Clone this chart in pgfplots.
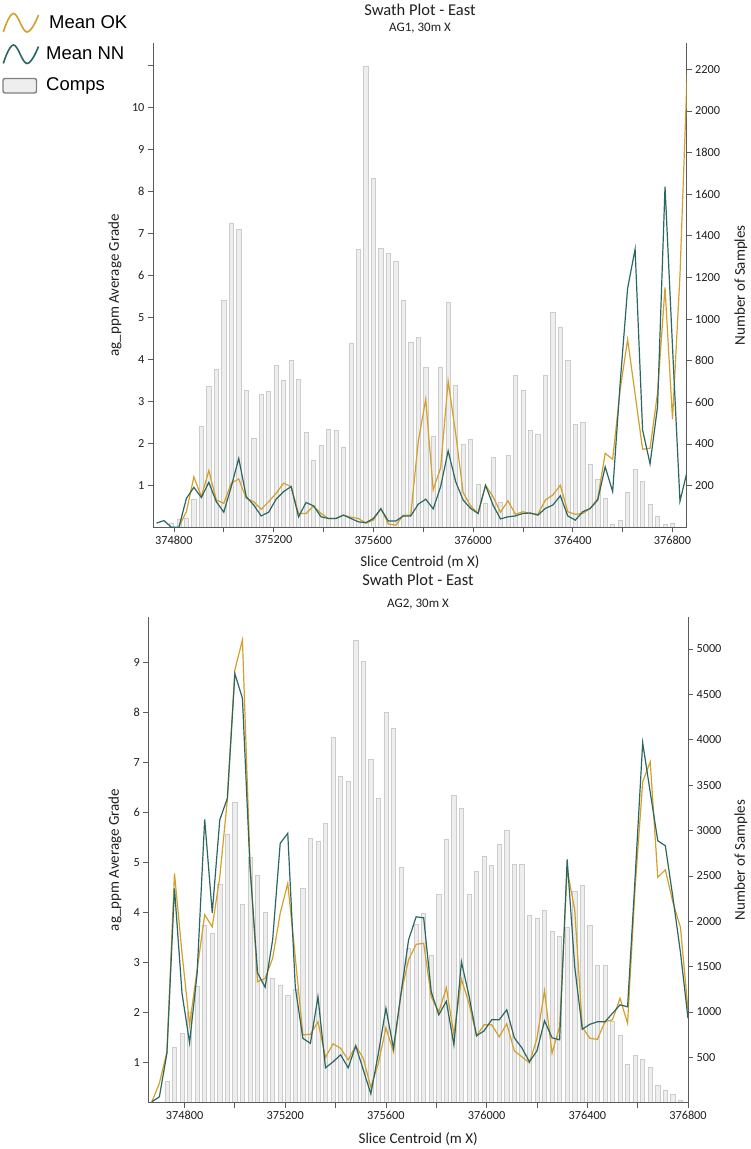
\documentclass[border=0pt]{standalone}
\usepackage{fontspec}
\setmainfont{Carlito}
\newfontfamily\legfont{Liberation Sans}
\usepackage{pgfplots}
\pgfplotsset{compat=1.18}
\usepackage{pgfplotstable}

\definecolor{okc}{HTML}{D4A02A}
\definecolor{nnc}{HTML}{2B6663}
\definecolor{axc}{HTML}{5A5A5A}
\definecolor{barfill}{HTML}{EEEEEE}
\definecolor{barline}{HTML}{CCCCCC}

\pgfplotstableread{
X comps ok nn
374730 0 nan 0.10
374760 0 nan 0.16
374790 20 nan 0.00
374820 40 0.02 0.00
374850 45 0.37 0.69
374880 133 1.20 0.95
374910 486 0.73 0.71
374940 678 1.35 1.07
374970 758 0.65 0.61
375000 1091 0.57 0.36
375030 1460 1.05 0.97
375060 1431 1.15 1.64
375090 659 0.69 0.73
375120 429 0.61 0.53
375150 638 0.43 0.27
375180 654 0.61 0.36
375210 779 0.81 0.67
375240 707 1.05 0.85
375270 803 0.97 0.97
375300 710 0.33 0.25
375330 455 0.33 0.59
375360 322 0.51 0.51
375390 394 0.33 0.25
375420 471 0.21 0.21
375450 466 0.21 0.21
375480 385 0.29 0.29
375510 883 0.24 0.21
375540 1335 0.21 0.13
375570 2216 0.10 0.11
375600 1675 0.17 0.21
375630 1338 0.45 0.44
375660 1316 0.08 0.15
375690 1277 0.05 0.15
375720 1091 0.29 0.27
375750 891 0.29 0.27
375780 912 2.04 0.55
375810 768 3.05 0.67
375840 437 0.89 0.44
375870 768 1.42 0.97
375900 1083 3.48 1.82
375930 683 2.24 1.09
375960 397 0.83 0.65
375990 421 0.51 0.45
376020 208 0.33 0.33
376050 114 1.00 1.00
376080 335 0.73 0.53
376110 119 0.36 0.20
376140 346 0.63 0.25
376170 731 0.31 0.27
376200 659 0.37 0.33
376230 466 0.33 0.34
376260 447 0.31 0.29
376290 731 0.65 0.45
376320 1035 0.77 0.53
376350 962 1.00 0.75
376380 801 0.37 0.27
376410 494 0.31 0.17
376440 505 0.33 0.37
376470 301 0.45 0.45
376500 230 0.68 0.65
376530 140 1.76 1.44
376560 13 1.62 0.85
376590 32 3.27 3.43
376620 170 4.47 5.69
376650 277 3.17 6.62
376680 220 1.86 2.32
376710 110 1.88 1.51
376740 53 3.20 2.87
376770 13 5.71 8.11
376800 18 2.57 4.30
376830 0 6.00 0.62
376860 0 11.00 1.36
}\swathA

\pgfplotstableread{
X comps ok nn
374670 0 0.21 0.21
374700 0 0.58 0.31
374730 236 1.21 1.18
374760 614 4.78 4.48
374790 768 3.18 2.38
374820 1000 1.75 1.39
374850 1282 2.85 2.78
374880 1961 3.95 5.86
374910 1870 3.71 3.99
374940 2402 4.71 5.85
374970 2953 6.25 6.28
375000 3313 8.85 8.77
375030 2182 9.45 8.28
375060 2707 5.00 4.90
375090 2512 2.61 2.79
375120 2101 2.68 2.50
375150 1367 3.08 3.45
375180 1290 3.98 5.38
375210 1180 4.58 5.58
375240 1246 3.10 2.50
375270 2365 1.55 1.48
375300 2909 1.56 1.38
375330 2883 1.81 2.31
375360 3081 1.10 0.89
375390 4032 1.37 1.01
375420 3602 1.28 1.15
375450 3547 1.05 0.89
375480 5100 1.33 1.33
375510 4865 1.08 0.85
375540 3786 0.50 0.37
375570 3353 0.98 1.18
375600 4304 1.69 2.08
375630 4127 1.21 1.28
375660 2597 2.38 2.38
375690 1700 3.05 3.45
375720 1962 3.36 3.91
375750 2090 3.38 3.89
375780 1620 2.31 2.41
375810 2292 2.01 1.95
375840 2905 2.49 2.22
375870 3386 1.55 1.35
375900 3246 2.66 3.01
375930 2299 2.18 2.33
375960 2553 1.53 1.53
375990 2721 1.75 1.63
376020 2622 1.75 1.85
376050 2850 1.51 1.85
376080 2997 1.77 2.05
376110 2633 1.23 1.49
376140 2633 1.11 1.29
376170 2071 0.99 1.01
376200 2035 1.48 1.23
376230 2126 2.43 1.83
376260 1895 1.18 1.49
376290 1840 1.71 1.45
376320 1936 4.85 5.06
376350 2328 4.05 2.91
376380 2394 1.71 1.66
376410 1954 1.48 1.76
376440 1510 1.46 1.81
376470 1510 1.81 1.81
376500 897 1.85 1.98
376530 743 2.28 2.15
376560 427 1.78 2.11
376590 519 4.50 4.70
376620 482 6.61 7.39
376650 390 7.01 6.40
376680 192 4.70 5.43
376710 133 4.85 5.33
376740 89 4.20 4.30
376770 27 3.70 3.20
376800 0 2.05 1.88
}\swathB

\newcommand{\labfont}{\fontsize{15}{18}\selectfont}

\pgfplotsset{
  swathbase/.style={
    scale only axis,
    anchor=south west,
    tick align=outside,
    major tick length=5pt,
    minor tick length=5pt,
    every tick/.style={axc, line width=0.8pt},
    axis line style={axc, line width=0.9pt},
    ticklabel style={font=\fontsize{12.3}{14}\selectfont, text=black!88},
    scaled x ticks=false,
    scaled y ticks=false,
    /pgf/number format/assume math mode=true,
    /pgf/number format/fixed,
    /pgf/number format/1000 sep={},
    unbounded coords=jump,
  },
  barsty/.style={ybar, bar width=4.2pt, fill=barfill, draw=barline, line width=0.6pt},
  oksty/.style={color=okc, line width=1.2pt, mark=none},
  nnsty/.style={color=nnc, line width=1.2pt, mark=none},
}

\begin{document}
\begin{tikzpicture}
\path[use as bounding box] (0pt,0pt) rectangle (750pt,-1149pt);

% ---------------- Panel 1 : samples ----------------
\begin{axis}[swathbase,
  at={(153pt,-527.3pt)}, width=533.7pt, height=484pt,
  xmin=374716, xmax=376857, ymin=0, ymax=2325,
  axis x line=none, axis y line*=right,
  ytick={200,400,600,800,1000,1200,1400,1600,1800,2000,2200},
  ylabel={Number of Samples},
  every axis y label/.style={at={(axis description cs:1.1017,0.5)}, rotate=90, anchor=center, font=\labfont, text=black!88},
]
\addplot[barsty] table[x=X, y=comps]{\swathA};
\end{axis}

% ---------------- Panel 1 : grades ----------------
\begin{axis}[swathbase,
  at={(153pt,-527.3pt)}, width=533.7pt, height=484pt,
  xmin=374716, xmax=376857, ymin=0, ymax=11.52,
  axis x line*=bottom, axis y line*=left,
  xtick={374800,375200,375600,376000,376400,376800},
  minor xtick={375000,375400,375800,376200,376600},
  ytick={1,2,3,4,5,6,7,8,9,10,11},
  yticklabels={1,2,3,4,5,6,7,8,9,10,{}},
  xlabel={Slice Centroid (m X)},
  ylabel={ag\_ppm Average Grade},
  every axis x label/.style={at={(axis description cs:0.5,-0.0717)}, anchor=center, font=\labfont, text=black!88},
  every axis y label/.style={at={(axis description cs:-0.0712,0.5)}, rotate=90, anchor=center, font=\labfont, text=black!88},
]
\addplot[oksty] table[x=X, y=ok]{\swathA};
\addplot[nnsty] table[x=X, y=nn]{\swathA};
\end{axis}

% ---------------- Panel 2 : samples ----------------
\begin{axis}[swathbase,
  at={(148.3pt,-1102.8pt)}, width=539.7pt, height=485.5pt,
  xmin=374656, xmax=376800, ymin=0, ymax=5349,
  axis x line=none, axis y line*=right,
  ytick={500,1000,1500,2000,2500,3000,3500,4000,4500,5000},
  ylabel={Number of Samples},
  every axis y label/.style={at={(axis description cs:1.098,0.5)}, rotate=90, anchor=center, font=\labfont, text=black!88},
]
\addplot[barsty] table[x=X, y=comps]{\swathB};
\end{axis}

% ---------------- Panel 2 : grades ----------------
\begin{axis}[swathbase,
  at={(148.3pt,-1102.8pt)}, width=539.7pt, height=485.5pt,
  xmin=374656, xmax=376800, ymin=0.19, ymax=9.9,
  axis x line*=bottom, axis y line*=left,
  xtick={374800,375200,375600,376000,376400,376800},
  minor xtick={375000,375400,375800,376200,376600},
  ytick={1,2,3,4,5,6,7,8,9},
  xlabel={Slice Centroid (m X)},
  ylabel={ag\_ppm Average Grade},
  every axis x label/.style={at={(axis description cs:0.5,-0.0748)}, anchor=center, font=\labfont, text=black!88},
  every axis y label/.style={at={(axis description cs:-0.0617,0.5)}, rotate=90, anchor=center, font=\labfont, text=black!88},
]
\addplot[oksty] table[x=X, y=ok]{\swathB};
\addplot[nnsty] table[x=X, y=nn]{\swathB};
\end{axis}

% ---------------- Titles ----------------
\node[font=\fontsize{16.5}{19}\selectfont, text=black!88] at (420pt,-10pt) {Swath Plot - East};
\node[font=\fontsize{13}{15}\selectfont, text=black!88] at (420pt,-28pt) {AG1, 30m X};
\node[font=\fontsize{16.5}{19}\selectfont, text=black!88] at (418pt,-580pt) {Swath Plot - East};
\node[font=\fontsize{13}{15}\selectfont, text=black!88] at (418pt,-604pt) {AG2, 30m X};

% ---------------- Legend ----------------
\draw[okc, line width=1.6pt] plot[smooth, tension=0.7] coordinates {(3.3pt,-32pt) (13.5pt,-13.5pt) (27pt,-32pt) (38.5pt,-15pt)};
\draw[nnc, line width=1.6pt] plot[smooth, tension=0.7] coordinates {(3.3pt,-63.5pt) (13.5pt,-45pt) (27pt,-63.5pt) (38.5pt,-46.5pt)};
\draw[fill=barfill, draw=black!50, line width=1.4pt, rounded corners=2pt] (3pt,-78.5pt) rectangle (36.5pt,-93pt);
\node[anchor=west, font=\legfont\fontsize{18.5}{21}\selectfont, inner sep=0pt] at (49pt,-22.5pt) {Mean OK};
\node[anchor=west, font=\legfont\fontsize{18.5}{21}\selectfont, inner sep=0pt] at (46pt,-53.5pt) {Mean NN};
\node[anchor=west, font=\legfont\fontsize{18.5}{21}\selectfont, inner sep=0pt] at (46pt,-86pt) {Comps};
\end{tikzpicture}
\end{document}
